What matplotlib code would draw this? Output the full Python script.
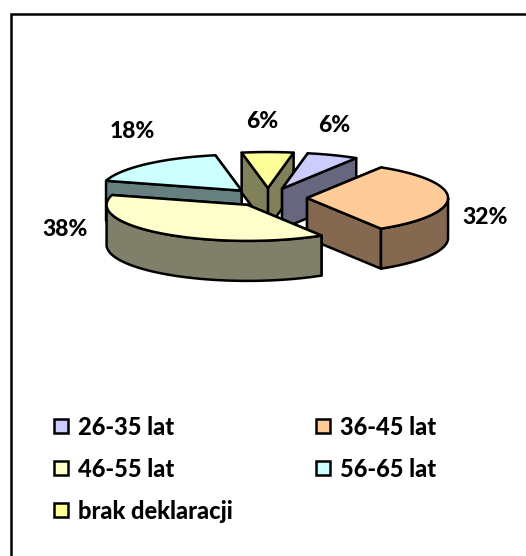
import numpy as np
import matplotlib
matplotlib.use("Agg")
import matplotlib.pyplot as plt
from matplotlib.patches import Polygon, Rectangle

categories = ["26-35 lat", "36-45 lat", "46-55 lat", "56-65 lat", "brak deklaracji"]
shares = [5.9, 32.4, 38.2, 17.6, 5.9]
top_colors = ["#CCCCFF", "#FFCC99", "#FFFFCC", "#CCFFFF", "#FFFF99"]
side_colors = ["#66667F", "#84684F", "#80806A", "#668080", "#80805A"]
explode = [0.277, 0.277, 0.24, 0.277, 0.277]

W, H = 526, 556
plt.rcParams["font.family"] = ["Lato", "DejaVu Sans"]
fig = plt.figure(figsize=(W / 100, H / 100), dpi=100)
ax = fig.add_axes([0, 0, 1, 1])
ax.set_xlim(0, W)
ax.set_ylim(H, 0)
ax.axis("off")

LW = 1.8
# chart frame: only the left and top edges are inside the image
ax.plot([11, 11, W + 5], [H + 5, 14, 14], color="black", lw=LW, solid_joinstyle="miter")

cx, cy, rx, ry, depth, start = 268, 198, 141, 36, 40, 10.5


def pt(theta):
    t = np.radians(theta)
    return np.sin(t) * rx, -np.cos(t) * ry


bounds = start + np.cumsum([0] + shares) * 3.6
slices = []
for i, share in enumerate(shares):
    a, b = bounds[i], bounds[i + 1]
    mx, my = pt((a + b) / 2)
    slices.append((i, a, b, cx + explode[i] * mx, cy + explode[i] * my))


def draw_slice(i, a, b, ax0, ay0):
    th = np.linspace(a, b, 80)
    xs, ys = pt(th)
    xs, ys = xs + ax0, ys + ay0
    kw = dict(ec="black", lw=LW, joinstyle="round")
    walls = []
    for e in (a, b):
        ex, ey = pt(e)
        ex, ey = ex + ax0, ey + ay0
        walls.append([(ax0, ay0), (ex, ey), (ex, ey + depth), (ax0, ay0 + depth)])
    walls.sort(key=lambda q: sum(p[1] for p in q))
    for q in walls:
        ax.add_patch(Polygon(q, closed=True, fc=side_colors[i], **kw))
    # visible (front) portion of the outer rim
    fa, fb = max(a, 90), min(b, 270)
    if fb > fa:
        tf = np.linspace(fa, fb, 80)
        fx, fy = pt(tf)
        fx, fy = fx + ax0, fy + ay0
        rim = list(zip(fx, fy)) + list(zip(fx[::-1], fy[::-1] + depth))
        ax.add_patch(Polygon(rim, closed=True, fc=side_colors[i], **kw))
    top = [(ax0, ay0)] + list(zip(xs, ys))
    ax.add_patch(Polygon(top, closed=True, fc=top_colors[i], **kw))


for idx in [3, 4, 0, 1, 2]:
    draw_slice(*slices[idx])

WEIGHT = "black"
label_pos = [(334, 125), (485, 217), (65, 230), (132, 131), (262, 121)]
for share, (x, y) in zip(shares, label_pos):
    ax.text(x, y, f"{share:.0f}%", ha="center", va="center",
            fontsize=16.5, fontweight=WEIGHT, color="black")

legend_pos = [(54, 426), (316, 426), (54, 468), (316, 468), (54, 510)]
for cat, col, (x, y) in zip(categories, top_colors, legend_pos):
    ax.add_patch(Rectangle((x, y - 7), 14, 14, fc=col, ec="black", lw=LW))
    ax.text(x + 24, y + 9, cat, ha="left", va="baseline",
            fontsize=17, fontweight=WEIGHT, color="black")

fig.savefig("out.png", dpi=100)
